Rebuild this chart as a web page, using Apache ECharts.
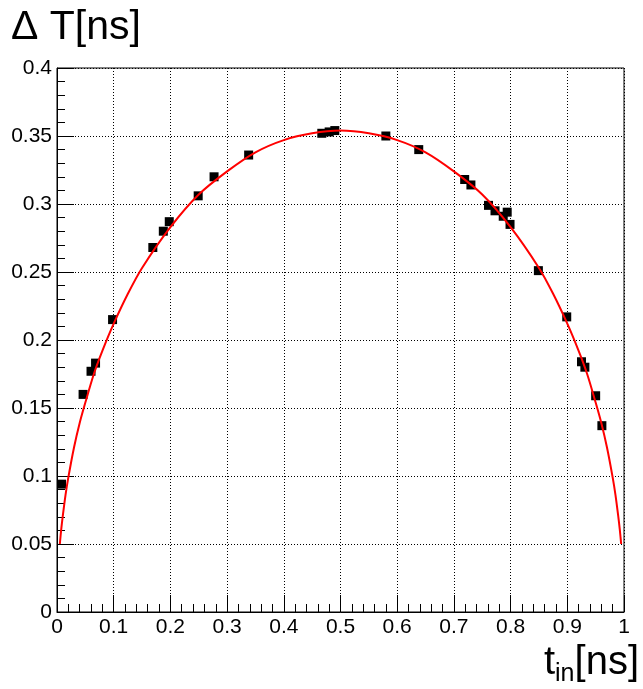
<!DOCTYPE html>
<html>
<head>
<meta charset="utf-8">
<script src="https://cdn.jsdelivr.net/npm/echarts@6/dist/echarts.min.js"></script>
<style>
html,body{margin:0;padding:0;background:#fff;}
#c{width:643px;height:689px;}
</style>
</head>
<body>
<div id="c"></div>
<script>
// measured points (t_in [ns], ΔT [ns])
var pointX = [0.008, 0.046, 0.060, 0.068, 0.098, 0.169, 0.1875, 0.198, 0.249, 0.277, 0.338, 0.467, 0.480, 0.490, 0.580, 0.638, 0.719, 0.730, 0.761, 0.7725, 0.787, 0.794, 0.799, 0.849, 0.899, 0.925, 0.931, 0.950, 0.961];
var pointY = [0.094, 0.160, 0.177, 0.183, 0.215, 0.268, 0.280, 0.287, 0.306, 0.320, 0.336, 0.352, 0.353, 0.354, 0.350, 0.340, 0.318, 0.314, 0.299, 0.295, 0.291, 0.294, 0.285, 0.251, 0.217, 0.184, 0.180, 0.159, 0.137];
// fit curve
var fitX = [0.005, 0.0075, 0.01, 0.015, 0.02, 0.03, 0.04, 0.05, 0.065, 0.08, 0.1, 0.125, 0.15, 0.2, 0.25, 0.3, 0.35, 0.4, 0.45, 0.5, 0.55, 0.6, 0.65, 0.7, 0.75, 0.8, 0.85, 0.875, 0.9, 0.92, 0.935, 0.95, 0.96, 0.97, 0.98, 0.985, 0.99, 0.9925, 0.995];
var fitY = [0.050, 0.061, 0.070, 0.086, 0.099, 0.121, 0.139, 0.154, 0.175, 0.192, 0.212, 0.234, 0.253, 0.283, 0.307, 0.324, 0.338, 0.347, 0.352, 0.354, 0.352, 0.347, 0.338, 0.324, 0.307, 0.283, 0.253, 0.234, 0.212, 0.192, 0.175, 0.154, 0.139, 0.121, 0.099, 0.086, 0.070, 0.061, 0.050];
var xTicks = [0, 0.1, 0.2, 0.3, 0.4, 0.5, 0.6, 0.7, 0.8, 0.9, 1];
var yTicks = [0, 0.05, 0.1, 0.15, 0.2, 0.25, 0.3, 0.35, 0.4];

var FONT = '"Liberation Sans", Arial, Helvetica, sans-serif';
var pts = pointX.map(function (x, i) { return [x, pointY[i]]; });
var fit = fitX.map(function (x, i) { return [x, fitY[i]]; });

var chart = echarts.init(document.getElementById('c'), null, {renderer: 'canvas'});
var axisCommon = {
  axisLine: {show: true, onZero: false, lineStyle: {color: '#000', width: 1}},
  axisTick: {show: true, inside: true, length: 17, lineStyle: {color: '#000', width: 1}},
  minorTick: {show: true, splitNumber: 5, length: 8, lineStyle: {color: '#000', width: 1}},
  splitLine: {show: true, lineStyle: {color: '#000', width: 1, type: [1, 2]}},
  axisLabel: {color: '#000', fontFamily: FONT, fontSize: 21, margin: 5}
};
chart.setOption({
  animation: false,
  backgroundColor: '#fff',
  grid: {left: 57, right: 19, top: 68, bottom: 77, show: true, borderColor: '#000', borderWidth: 1, backgroundColor: 'transparent'},
  xAxis: Object.assign({
    type: 'value', min: 0, max: 1, interval: 0.1,
    axisLabel: Object.assign({}, axisCommon.axisLabel, {
      formatter: function (v) { var s = xTicks.filter(function (t) { return Math.abs(t - v) < 1e-9; }); return s.length ? String(s[0]) : ''; }
    })
  }, {axisLine: axisCommon.axisLine, axisTick: axisCommon.axisTick, minorTick: axisCommon.minorTick, splitLine: axisCommon.splitLine}),
  yAxis: Object.assign({
    type: 'value', min: 0, max: 0.4, interval: 0.05,
    axisLabel: Object.assign({}, axisCommon.axisLabel, {
      formatter: function (v) { var s = yTicks.filter(function (t) { return Math.abs(t - v) < 1e-9; }); return s.length ? String(s[0]) : ''; }
    })
  }, {axisLine: axisCommon.axisLine, axisTick: axisCommon.axisTick, minorTick: axisCommon.minorTick, splitLine: axisCommon.splitLine}),
  series: [
    {
      type: 'line', data: fit, smooth: 0.3, symbol: 'none', clip: true,
      lineStyle: {color: '#ff0000', width: 2}, z: 3
    },
    {
      type: 'scatter', data: pts, symbol: 'rect', symbolSize: 9,
      itemStyle: {color: '#000', opacity: 1}, z: 2
    }
  ],
  graphic: [
    {
      type: 'text', left: 11, top: 7,
      style: {text: 'Δ T[ns]', fontFamily: FONT, fontSize: 41, fill: '#000'}
    },
    {
      type: 'text', right: 4, bottom: 2,
      style: {
        text: '{a|t}{s|in}{a|[ns]}',
        rich: {
          a: {fontFamily: FONT, fontSize: 40, fill: '#000', lineHeight: 44, verticalAlign: 'top'},
          s: {fontFamily: FONT, fontSize: 25, fill: '#000', lineHeight: 44, verticalAlign: 'bottom'}
        }
      }
    }
  ]
});
</script>
</body>
</html>
